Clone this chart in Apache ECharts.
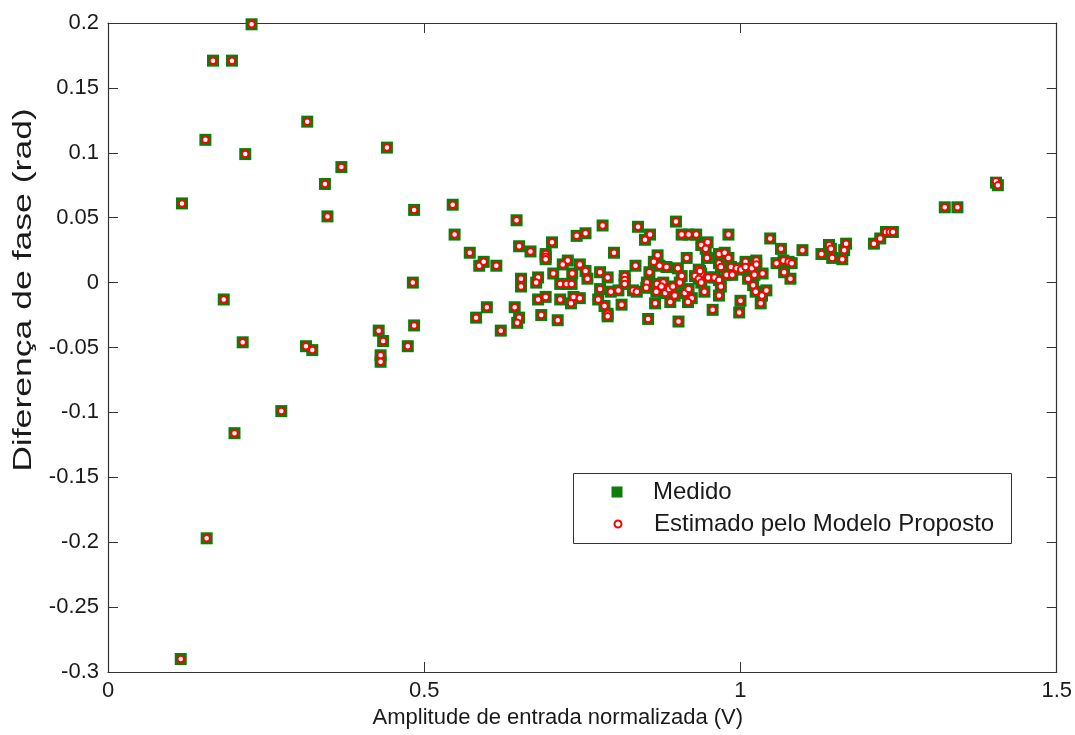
<!DOCTYPE html>
<html>
<head>
<meta charset="utf-8">
<title>Diferença de fase</title>
<script src="https://cdn.jsdelivr.net/npm/echarts@6/dist/echarts.min.js"></script>
<style>
  html, body { margin: 0; padding: 0; background: #fff; }
  #chart { width: 1075px; height: 735px; }
</style>
</head>
<body>
<div id="chart"></div>
<script>
// Normalized input amplitude (V) for each measurement
const amplitude = [
  0.227, 0.166, 0.196, 0.315, 0.154, 0.217, 0.369, 0.441, 0.343, 0.117,
  0.347, 0.484, 0.482, 0.183, 0.484, 0.213, 0.313, 0.323, 0.428, 0.435,
  0.474, 0.431, 0.431, 0.274, 0.200, 0.156, 0.115,
  0.545, 0.646, 0.548, 0.782, 0.741, 0.755, 0.838, 0.650, 0.668, 0.702,
  0.692, 0.692, 0.692, 0.572, 0.587, 0.594, 0.614, 0.800, 0.834, 0.727,
  0.719, 0.746, 0.755, 0.758, 0.704, 0.734, 0.778, 0.790, 0.817, 0.817,
  0.817, 0.653, 0.653, 0.680, 0.677, 0.715, 0.725, 0.733, 0.778, 0.795,
  0.807, 0.830, 0.836, 0.680, 0.692, 0.715, 0.736, 0.746, 0.732, 0.775,
  0.785, 0.812, 0.790, 0.790, 0.599, 0.582, 0.643, 0.650, 0.647, 0.685,
  0.711, 0.621,
  0.857, 0.849, 0.898, 0.907, 0.918, 0.930, 0.981, 0.938, 0.948, 0.945,
  0.947, 0.869, 0.863, 0.872, 0.883, 0.901, 0.915, 0.966, 0.975, 0.981,
  0.966, 0.969, 0.934, 0.938, 0.856, 0.852, 0.851, 0.868, 0.878, 0.867,
  0.875, 0.881, 0.887, 0.893, 0.896, 0.889, 0.904, 0.907, 0.865, 0.854,
  0.902, 0.912, 0.918, 0.923, 0.917, 0.928, 0.936, 0.934, 0.938, 0.949,
  0.959, 0.943, 0.966, 0.969, 0.966, 0.956, 0.978, 0.987, 0.985, 0.994,
  1.001, 1.008, 1.008, 1.000, 0.998, 1.012, 1.018, 1.025, 1.025, 1.022,
  1.035, 1.020, 1.024, 1.034, 1.041, 1.032, 1.047, 1.064, 1.098, 1.057,
  1.068, 1.076, 1.081, 1.069, 1.079,
  1.128, 1.140, 1.143, 1.145, 1.161, 1.164, 1.167, 1.211, 1.221, 1.230,
  1.236, 1.241, 1.323, 1.343, 1.404, 1.407
];

// Measured phase difference (rad)
const medido = [
  0.199, 0.171, 0.171, 0.124, 0.110, 0.099, 0.089, 0.104, 0.076, 0.061,
  0.051, 0.056, 0.000, -0.013, -0.033, -0.046, -0.049, -0.052, -0.037, -0.045,
  -0.049, -0.056, -0.061, -0.099, -0.116, -0.197, -0.290,
  0.060, 0.048, 0.037, 0.044, 0.036, 0.038, 0.043, 0.028, 0.024, 0.031,
  0.022, 0.020, 0.018, 0.023, 0.013, 0.016, 0.013, 0.023, 0.013, 0.017,
  0.014, 0.014, 0.009, 0.003, 0.007, 0.007, 0.008, 0.004, 0.005, 0.002,
  -0.001, 0.003, -0.003, 0.004, 0.000, -0.001, -0.001, -0.001, -0.005, -0.007,
  -0.006, -0.006, -0.007, -0.013, -0.011, -0.013, -0.011, -0.012, -0.016, -0.013,
  -0.018, -0.017, -0.024, -0.026, -0.019, -0.027, -0.019, -0.027, -0.031, -0.025,
  -0.029, -0.037,
  0.037, 0.033, 0.047, 0.037, 0.037, 0.037, 0.037, 0.029, 0.031, 0.026,
  0.019, 0.021, 0.016, 0.013, 0.012, 0.011, 0.019, 0.022, 0.023, 0.019,
  0.015, 0.012, 0.010, 0.007, 0.008, 0.000, -0.004, -0.001, 0.000, -0.007,
  -0.003, -0.008, -0.005, -0.003, -0.010, -0.015, 0.000, 0.005, -0.016, -0.028,
  -0.030, -0.008, -0.005, -0.012, -0.015, 0.005, 0.009, 0.003, 0.000, 0.004,
  0.004, -0.007, 0.002, -0.003, -0.010, -0.021, 0.006, 0.006, 0.012, 0.011,
  0.010, 0.016, 0.012, -0.014, -0.023, 0.003, 0.011, 0.017, 0.014, 0.006,
  0.007, -0.002, -0.007, -0.010, -0.006, -0.016, 0.034, 0.026, 0.025, 0.015,
  0.017, 0.016, 0.015, 0.008, 0.003,
  0.022, 0.029, 0.026, 0.019, 0.018, 0.025, 0.030, 0.030, 0.034, 0.039,
  0.039, 0.039, 0.058, 0.058, 0.077, 0.075
];

// Phase difference estimated by the proposed model (rad)
const estimado = [
  0.199, 0.171, 0.171, 0.124, 0.110, 0.099, 0.089, 0.104, 0.076, 0.061,
  0.051, 0.056, 0.000, -0.013, -0.033, -0.046, -0.049, -0.052, -0.037, -0.045,
  -0.049, -0.056, -0.061, -0.099, -0.116, -0.197, -0.290,
  0.060, 0.048, 0.037, 0.044, 0.036, 0.038, 0.043, 0.028, 0.024, 0.031,
  0.022, 0.020, 0.018, 0.023, 0.013, 0.016, 0.013, 0.023, 0.013, 0.017,
  0.014, 0.014, 0.009, 0.003, 0.007, 0.007, 0.008, 0.004, 0.005, 0.002,
  -0.001, 0.003, -0.003, 0.004, 0.000, -0.001, -0.001, -0.001, -0.005, -0.007,
  -0.006, -0.006, -0.007, -0.013, -0.011, -0.013, -0.011, -0.012, -0.016, -0.013,
  -0.018, -0.017, -0.024, -0.026, -0.019, -0.027, -0.019, -0.027, -0.031, -0.025,
  -0.029, -0.037,
  0.037, 0.033, 0.047, 0.037, 0.037, 0.037, 0.037, 0.029, 0.031, 0.026,
  0.019, 0.021, 0.016, 0.013, 0.012, 0.011, 0.019, 0.022, 0.023, 0.019,
  0.015, 0.012, 0.010, 0.007, 0.008, 0.000, -0.004, -0.001, 0.000, -0.007,
  -0.003, -0.008, -0.005, -0.003, -0.010, -0.015, 0.000, 0.005, -0.016, -0.028,
  -0.030, -0.008, -0.005, -0.012, -0.015, 0.005, 0.009, 0.003, 0.000, 0.004,
  0.004, -0.007, 0.002, -0.003, -0.010, -0.021, 0.006, 0.006, 0.012, 0.011,
  0.010, 0.016, 0.012, -0.014, -0.023, 0.003, 0.011, 0.017, 0.014, 0.006,
  0.007, -0.002, -0.007, -0.010, -0.006, -0.016, 0.034, 0.026, 0.025, 0.015,
  0.017, 0.016, 0.015, 0.008, 0.003,
  0.022, 0.029, 0.026, 0.019, 0.018, 0.025, 0.030, 0.030, 0.034, 0.039,
  0.039, 0.039, 0.058, 0.058, 0.078, 0.075
];

const seriesNames = ['Medido', 'Estimado pelo Modelo Proposto'];
const xTitle = 'Amplitude de entrada normalizada (V)';
const yTitle = 'Diferença de fase (rad)';

const FONT = '"Liberation Sans", Arial, sans-serif';
const AXIS_COLOR = '#333333';
const TEXT_COLOR = '#1a1a1a';

const fmt = v => String(+(+v).toFixed(2));

const tickInside = { show: true, inside: true, length: 10, lineStyle: { color: AXIS_COLOR, width: 1 } };
const axisLine = { show: true, onZero: false, lineStyle: { color: AXIS_COLOR, width: 1.2 } };

const legendText = pad => ({
  color: TEXT_COLOR, fontFamily: FONT, fontSize: 24, lineHeight: 26, padding: [0, 0, 0, pad]
});

const chart = echarts.init(document.getElementById('chart'), null, { renderer: 'canvas' });

chart.setOption({
  backgroundColor: '#ffffff',
  animation: false,
  grid: { left: 108, right: 18, top: 23, bottom: 63, containLabel: false },
  xAxis: [
    {
      type: 'value', min: 0, max: 1.5, interval: 0.5, position: 'bottom',
      axisLine, axisTick: tickInside, splitLine: { show: false },
      axisLabel: { formatter: fmt, color: TEXT_COLOR, fontFamily: FONT, fontSize: 22, margin: 8 },
      name: xTitle, nameLocation: 'middle', nameGap: 31,
      nameTextStyle: { color: TEXT_COLOR, fontFamily: FONT, fontSize: 22, padding: [0, 49, 0, 0] }
    },
    {
      type: 'value', min: 0, max: 1.5, interval: 0.5, position: 'top',
      axisLine, axisTick: tickInside, axisLabel: { show: false }, splitLine: { show: false }
    }
  ],
  yAxis: [
    {
      type: 'value', min: -0.3, max: 0.2, interval: 0.05, position: 'left',
      axisLine, axisTick: tickInside, splitLine: { show: false },
      axisLabel: { formatter: fmt, color: TEXT_COLOR, fontFamily: FONT, fontSize: 22, margin: 9 }
    },
    {
      type: 'value', min: -0.3, max: 0.2, interval: 0.05, position: 'right',
      axisLine, axisTick: tickInside, axisLabel: { show: false }, splitLine: { show: false }
    }
  ],
  legend: [
    {
      data: [seriesNames[0]], orient: 'vertical', left: 611.5, top: 479, padding: 0,
      itemWidth: 11, itemHeight: 11, itemGap: 0, selectedMode: false, z: 6,
      textStyle: legendText(25.5)
    },
    {
      data: [seriesNames[1]], orient: 'vertical', left: 613.5, top: 511, padding: 0,
      itemWidth: 7, itemHeight: 7, itemGap: 0, selectedMode: false, z: 6,
      textStyle: legendText(27.5)
    }
  ],
  graphic: [
    {
      type: 'rect', z: 5,
      shape: { x: 573.5, y: 473.5, width: 438, height: 70 },
      style: { fill: '#ffffff', stroke: AXIS_COLOR, lineWidth: 1 }
    },
    {
      type: 'text', x: 24, y: 290, rotation: Math.PI / 2, scaleX: 1.27, scaleY: 0.95, z: 5,
      style: {
        text: yTitle, fill: TEXT_COLOR, font: '28px ' + FONT,
        align: 'center', verticalAlign: 'middle'
      }
    }
  ],
  series: [
    {
      name: seriesNames[0], type: 'scatter', xAxisIndex: 0, yAxisIndex: 0,
      symbol: 'rect', symbolSize: 12, clip: false, z: 2,
      itemStyle: { color: '#0a7d0a', opacity: 1 },
      data: amplitude.map((a, i) => [a, medido[i]])
    },
    {
      name: seriesNames[1], type: 'scatter', xAxisIndex: 0, yAxisIndex: 0,
      symbol: 'circle', symbolSize: 6.5, clip: false, z: 3,
      itemStyle: { color: '#ffffff', borderColor: '#ff0000', borderWidth: 2, opacity: 1 },
      data: amplitude.map((a, i) => [a, estimado[i]])
    }
  ]
});
</script>
</body>
</html>
